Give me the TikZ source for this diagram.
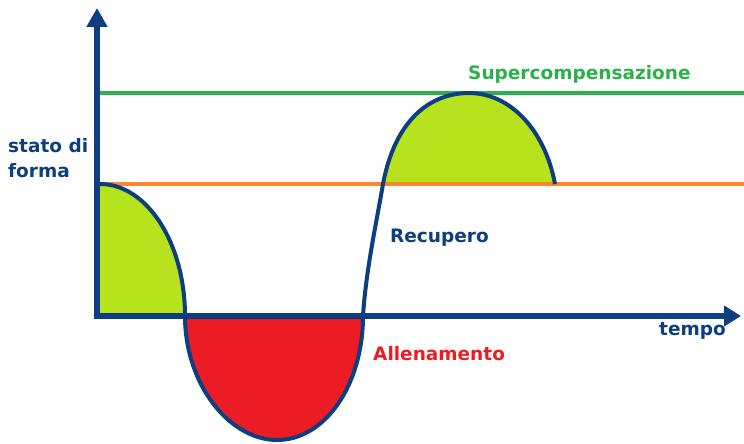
\documentclass[tikz,border=0pt]{standalone}
\usepackage{fontspec}
\setmainfont{DejaVu Sans}
\usepackage{tikz}
\usetikzlibrary{arrows.meta, positioning}
\definecolor{navy}{RGB}{12,62,128}
\definecolor{limefill}{RGB}{182,227,30}
\definecolor{redfill}{RGB}{236,28,36}
\definecolor{orangeline}{RGB}{255,132,44}
\definecolor{greenline}{RGB}{44,176,76}

\begin{document}
\begin{tikzpicture}[x=1pt, y=-1pt,
    lbl/.style={font=\fontsize{18.5}{22}\selectfont\bfseries, inner sep=0pt, anchor=base west}]
\useasboundingbox (0,0) rectangle (744,444);

% filled areas
\fill[limefill] (100,184) .. controls (147,184) and (185,243) .. (185,316) -- (100,316) -- cycle;
\fill[redfill] (185,316) .. controls (185,385) and (230,440) .. (277,440)
    .. controls (325,440) and (363,385) .. (363,316) -- cycle;
\fill[limefill] (383,184) .. controls (395,120) and (430,93) .. (469,93)
    .. controls (510,93) and (545,130) .. (555,184) -- cycle;

% levels
\draw[orangeline, line width=4] (100,184) -- (744,184);
\draw[greenline, line width=4] (100,93) -- (744,93);

% curve
\draw[navy, line width=4, line join=round] (100,184) .. controls (147,184) and (185,243) .. (185,316)
    .. controls (185,385) and (230,440) .. (277,440)
    .. controls (325,440) and (363,385) .. (363,316)
    .. controls (366,270) and (376,225) .. (383,184)
    .. controls (395,120) and (430,93) .. (469,93)
    .. controls (510,93) and (545,130) .. (555,184);

% axes
\coordinate (ytop) at (97,8);
\coordinate (origin) at (97,316);
\coordinate (xend) at (741,316);
\draw[navy, line width=6, line join=miter, {Triangle[length=19pt,width=20pt]}-{Triangle[length=17pt,width=20pt]}]
    (ytop) -- (origin) -- (xend);

% labels
\node[lbl, navy] (stato) at (8,152) {stato di};
\node[lbl, navy] (forma) at (8,177) {forma};
\node[lbl, greenline] (supercomp) at (468,80) {Supercompensazione};
\node[lbl, navy] (recupero) at (390,242) {Recupero};
\node[lbl, redfill] (allenamento) at (373,360) {Allenamento};
\node[lbl, navy] (tempo) at (659,335) {tempo};
\end{tikzpicture}
\end{document}
